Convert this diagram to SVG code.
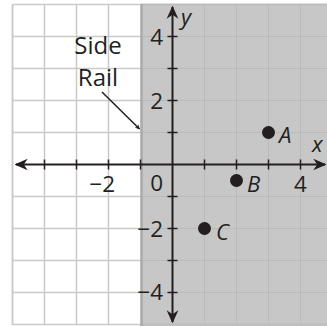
<svg xmlns="http://www.w3.org/2000/svg" width="327" height="327" viewBox="0 0 327 327">
<style>
text{font-family:"Open Sans","Liberation Sans",sans-serif;font-size:22.5px;fill:#231f20}
.it{font-style:italic;font-size:22px}
.lb{font-size:24px}
.gw{stroke:#c9c9c9;stroke-width:1.5;fill:none}
.gg{stroke:#bababa;stroke-width:1;fill:none}
.ax{stroke:#231f20;stroke-width:2;fill:none}
.tk{stroke:#231f20;stroke-width:1.5;fill:none}
</style>
<defs>
<marker id="ah" viewBox="0 0 10 10" refX="9" refY="5" markerWidth="5" markerHeight="5" orient="auto-start-reverse" markerUnits="userSpaceOnUse">
<path d="M0,0 L10,5 L0,10 L3,5 Z" fill="#231f20"/>
</marker>
<marker id="ax" viewBox="0 0 10 10" refX="9" refY="5" markerWidth="13" markerHeight="13" orient="auto-start-reverse" markerUnits="userSpaceOnUse">
<path d="M0,0.5 L10,5 L0,9.5 L3,5 Z" fill="#231f20"/>
</marker>
</defs>
<g id="background">
<rect x="0" y="0" width="327" height="327" fill="#ffffff"/>
<rect x="141" y="4" width="186" height="322" fill="#c7c7c7"/>
</g>
<g id="grid">
<path class="gw" d="M12.5,4.5V325 M44.5,4.5V325 M76.5,4.5V325 M108.5,4.5V325 M12.5,4.5H141 M12.5,36.5H141 M12.5,68.5H141 M12.5,100.5H141 M12.5,132.5H141 M12.5,196.5H141 M12.5,228.5H141 M12.5,260.5H141 M12.5,292.5H141 M12.5,324.5H141"/>
<path class="gw" d="M12.5,4.5V325" stroke-width="2.5"/>
<path class="gg" d="M204.5,4V325 M236.5,4V325 M268.5,4V325 M300.5,4V325 M141,36.5H327 M141,68.5H327 M141,100.5H327 M141,132.5H327 M141,196.5H327 M141,228.5H327 M141,260.5H327 M141,292.5H327"/>
<path d="M141,4.5H327 M141,324.5H327" stroke="#bdbdbd" stroke-width="2" fill="none"/>
<path d="M141.5,4V326" stroke="#a8a8a8" stroke-width="2.5" fill="none"/>
</g>
<g id="axes">
<path class="ax" d="M16,164.5H325" marker-start="url(#ax)" marker-end="url(#ax)"/>
<path class="ax" d="M172.5,7V322" marker-start="url(#ax)" marker-end="url(#ax)"/>
<path class="tk" d="M44.5,159.5v10 M76.5,159.5v10 M108.5,159.5v10 M140.5,159.5v10 M204.5,159.5v10 M236.5,159.5v10 M268.5,159.5v10 M300.5,159.5v10"/>
<path class="tk" d="M167.5,36.5h10 M167.5,68.5h10 M167.5,100.5h10 M167.5,132.5h10 M167.5,196.5h10 M167.5,228.5h10 M167.5,260.5h10 M167.5,292.5h10"/>
<text x="163" y="45" text-anchor="end">4</text>
<text x="163" y="109" text-anchor="end">2</text>
<text x="163" y="191" text-anchor="end">0</text>
<text x="163" y="237" text-anchor="end">−2</text>
<text x="163" y="300" text-anchor="end">−4</text>
<text x="115" y="192" text-anchor="end">−2</text>
<text x="300.5" y="192" text-anchor="middle">4</text>
<text class="it" x="181" y="25">y</text>
<text class="it" x="312" y="152">x</text>
</g>
<g id="pointA">
<circle cx="268.5" cy="132.5" r="6.5" fill="#231f20"/>
<text class="it" x="279" y="143">A</text>
</g>
<g id="pointB">
<circle cx="236.5" cy="180.5" r="6.5" fill="#231f20"/>
<text class="it" x="247" y="192">B</text>
</g>
<g id="pointC">
<circle cx="204.5" cy="228.5" r="6.5" fill="#231f20"/>
<text class="it" x="216" y="240">C</text>
</g>
<g id="sideRail">
<text class="lb" x="98" y="54" text-anchor="middle">Side</text>
<text class="lb" x="98" y="86" text-anchor="middle">Rail</text>
</g>
<g id="connectors">
<path d="M102,92 L139.5,129" stroke="#231f20" stroke-width="1.5" fill="none" marker-end="url(#ah)"/>
</g>
</svg>
